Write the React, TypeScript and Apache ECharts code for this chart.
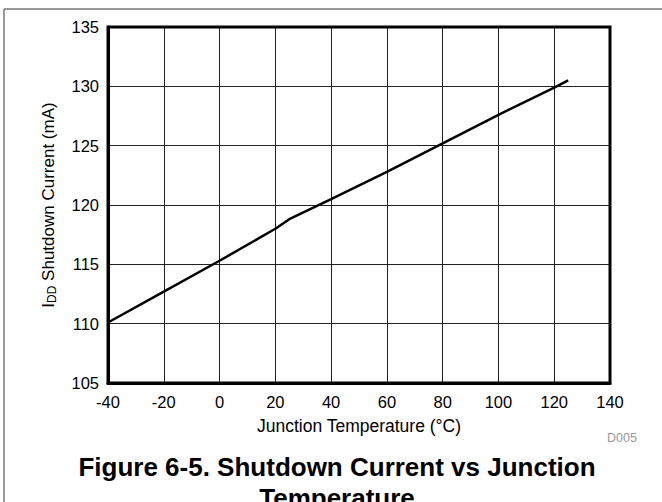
import React, { useEffect, useRef } from "react";
import * as echarts from "echarts";

const temps = [-40, -20, 0, 20, 25, 40, 60, 80, 100, 120, 125];
const currents = [110.1, 112.7, 115.3, 118.0, 118.8, 120.5, 122.8, 125.2, 127.6, 129.9, 130.5];
const xTicks = { min: -40, max: 140, interval: 20 };
const yTicks = { min: 105, max: 135, interval: 5 };
const xName = "Junction Temperature (°C)";
const yNameMain = " Shutdown Current (mA)";
const titleLines = ["Figure 6-5. Shutdown Current vs Junction", "Temperature"];
const figId = "D005";

export default function App() {
  const ref = useRef<HTMLDivElement>(null);
  useEffect(() => {
    if (!ref.current) return;
    const chart = echarts.init(ref.current, undefined, { renderer: "svg" });
    const font = "Liberation Sans, Arial, Helvetica, sans-serif";
    chart.setOption({
      animation: false,
      backgroundColor: "#fff",
      textStyle: { fontFamily: font },
      title: {
        text: titleLines.join("\n"),
        left: 332,
        top: 446,
        textAlign: "center",
        textStyle: { fontFamily: font, fontSize: 26, fontWeight: "bold", color: "#000", lineHeight: 31 },
      },
      grid: { left: 108, right: 52, top: 27, bottom: 119 },
      xAxis: {
        type: "value",
        min: xTicks.min,
        max: xTicks.max,
        interval: xTicks.interval,
        name: xName,
        nameLocation: "middle",
        nameGap: 34,
        nameTextStyle: { fontSize: 17.5, color: "#000", fontFamily: font },
        axisLine: { show: true, onZero: false, lineStyle: { color: "#000", width: 3 } },
        axisTick: { show: false },
        axisLabel: { fontSize: 16.5, color: "#000", margin: 10, fontFamily: font },
        splitLine: { show: true, lineStyle: { color: "#222", width: 1 } },
      },
      yAxis: {
        type: "value",
        min: yTicks.min,
        max: yTicks.max,
        interval: yTicks.interval,
        name: "{a|I}{s|DD}{a|" + yNameMain + "}",
        nameLocation: "middle",
        nameGap: 50,
        nameTextStyle: {
          fontSize: 17,
          color: "#000",
          fontFamily: font,
          rich: {
            a: { fontSize: 17, color: "#000", fontFamily: font },
            s: { fontSize: 12, color: "#000", fontFamily: font, padding: [8, 0, 0, 0] },
          },
        },
        axisLine: { show: true, onZero: false, lineStyle: { color: "#000", width: 3 } },
        axisTick: { show: false },
        axisLabel: { fontSize: 16.5, color: "#000", margin: 9, fontFamily: font },
        splitLine: { show: true, lineStyle: { color: "#222", width: 1 } },
      },
      graphic: [
        { type: "rect", shape: { x: 108, y: 27, width: 502, height: 356 }, style: { fill: "none", stroke: "#000", lineWidth: 3 }, silent: true, z: 10 },
        { type: "line", shape: { x1: 4, y1: 9, x2: 662, y2: 9 }, style: { stroke: "#777", lineWidth: 1.5 } },
        { type: "line", shape: { x1: 4, y1: 9, x2: 4, y2: 502 }, style: { stroke: "#777", lineWidth: 1.5 } },
        { type: "text", x: 607, y: 431, style: { text: figId, fontSize: 12.5, fill: "#999", fontFamily: font } },
      ],
      series: [
        {
          type: "line",
          data: temps.map((t, i) => [t, currents[i]]),
          showSymbol: false,
          lineStyle: { color: "#000", width: 2.5 },
          z: 5,
        },
      ],
    });
    return () => chart.dispose();
  }, []);
  return <div ref={ref} style={{ position: "fixed", left: 0, top: 0, width: 662, height: 502 }} />;
}
